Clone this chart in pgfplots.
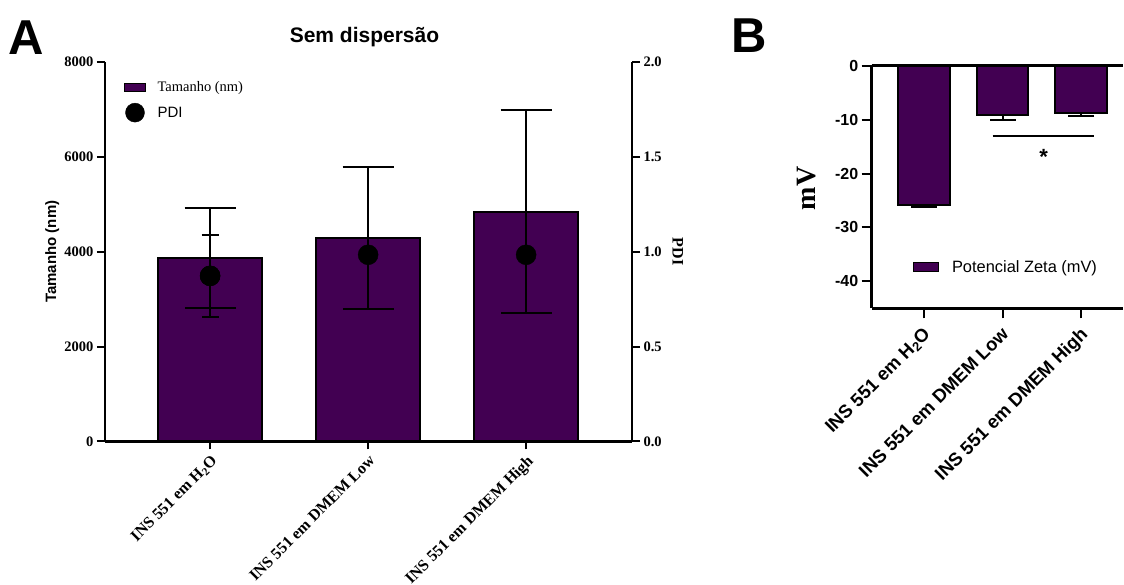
\documentclass[border=0pt]{standalone}
\usepackage{pgfplots}
\pgfplotsset{compat=1.18}
\usepackage{pgfplotstable}
\usepackage{fontspec}
\setmainfont{Liberation Serif}
\setsansfont{Liberation Sans}
\definecolor{barc}{RGB}{66,0,82}

\pgfplotstableread{
x size err
0 3877 1055
1 4290 1500
2 4845 2140
}\tabA

\pgfplotstableread{
x pdi
0 0.873
1 0.984
2 0.984
}\tabPDI

\pgfplotstableread{
x zeta err
0 -25.9 0.3
1 -9.13 0.93
2 -8.70 0.6
}\tabB

\begin{document}
\begin{tikzpicture}[x=1pt,y=1pt]
\useasboundingbox (0,0) rectangle (1124,585);

% ---------- Panel A : bars ----------
\begin{axis}[
  at={(105pt,143.5pt)}, anchor=south west,
  scale only axis, width=527pt, height=379.5pt,
  xmin=-0.665, xmax=2.67, ymin=0, ymax=8000,
  axis x line*=bottom, axis y line*=left,
  axis line style={line width=2.5pt, black},
  tick style={line width=2pt, black}, major tick length=8pt, tick align=outside,
  ytick={0,2000,4000,6000,8000},
  yticklabels={0,2000,4000,6000,8000},
  yticklabel style={font=\rmfamily\bfseries\fontsize{14.5}{16}\selectfont},
  xtick={0,1,2},
  xticklabels={INS 551 em H\textsubscript{2}O, INS 551 em DMEM Low, INS 551 em DMEM High},
  xticklabel style={font=\rmfamily\bfseries\fontsize{16}{18}\selectfont, yshift=-3pt, rotate=45, anchor=north east, inner sep=1pt},
  ylabel={Tamanho (nm)},
  ylabel style={font=\sffamily\bfseries\fontsize{15}{17}\selectfont, at={(axis description cs:-0.1,0.5)}, anchor=center},
  legend style={at={(axis description cs:0.03,0.96)}, anchor=north west, draw=none, fill=none, row sep=8pt},
  legend cell align=left,
  clip=false,
]
\addlegendimage{legend image code/.code={\path[draw=none,fill=none] (0pt,0pt) -- (31pt,0pt);\draw[fill=barc,draw=black,line width=1pt] (0pt,-4pt) rectangle (21pt,4pt);}}
\addlegendentry{\rmfamily\fontsize{14.5}{16}\selectfont Tamanho (nm)}
\addlegendimage{legend image code/.code={\path[draw=none,fill=none] (0pt,0pt) -- (31pt,0pt);\fill[black] (10.5pt,0pt) circle (9.5pt);}}
\addlegendentry{\sffamily\fontsize{15}{17}\selectfont PDI}
\addplot[ybar, bar width=0.66, fill=barc, draw=black, line width=2pt,
  error bars/.cd, y dir=both, y explicit,
  error bar style={line width=2pt, black},
  error mark options={rotate=90, line width=2pt, mark size=25.5pt, black}]
  table[x=x, y=size, y error=err]{\tabA};
\end{axis}

% ---------- Panel A : PDI ----------
\begin{axis}[
  at={(105pt,143.5pt)}, anchor=south west,
  scale only axis, width=527pt, height=379.5pt,
  xmin=-0.665, xmax=2.67, ymin=0, ymax=2,
  axis x line=none, axis y line*=right,
  axis line style={line width=2.5pt, black},
  tick style={line width=2pt, black}, major tick length=8pt, tick align=outside,
  ytick={0,0.5,1,1.5,2},
  yticklabels={0.0,0.5,1.0,1.5,2.0},
  yticklabel style={font=\rmfamily\bfseries\fontsize{14.5}{16}\selectfont},
  clip=false,
]
\addplot[only marks, mark=*, mark size=10pt, black,
  error bars/.cd, y dir=both, y explicit,
  error bar style={line width=2pt, black},
  error mark options={rotate=90, line width=2pt, mark size=8.5pt, black}]
  coordinates {(0,0.873) +- (0,0.216)};
\addplot[only marks, mark=*, mark size=10pt, black] table[x=x, y=pdi]{\tabPDI};
\node[rotate=-90, anchor=center, font=\rmfamily\bfseries\fontsize{16}{18}\selectfont] at (axis description cs:1.087,0.5) {PDI};
\end{axis}

% ---------- Panel B ----------
\begin{axis}[
  at={(871.7pt,276.7pt)}, anchor=south west,
  scale only axis, width=251pt, height=242.6pt,
  xmin=-0.665, xmax=2.53, ymin=-45, ymax=0,
  axis x line*=bottom, axis y line*=left,
  axis line style={line width=2.5pt, black},
  tick style={line width=2pt, black}, major tick length=10pt, tick align=outside,
  ytick={-40,-30,-20,-10,0},
  yticklabels={-40,-30,-20,-10,0},
  yticklabel style={font=\sffamily\bfseries\fontsize{16}{18}\selectfont},
  xtick={0,1,2},
  xticklabels={INS 551 em H\textsubscript{2}O, INS 551 em DMEM Low, INS 551 em DMEM High},
  xticklabel style={font=\sffamily\bfseries\fontsize{18.5}{20}\selectfont, xshift=-2pt, yshift=-6pt, rotate=45, anchor=north east, inner sep=1pt},
  ylabel={mV},
  ylabel style={font=\rmfamily\bfseries\fontsize{28}{30}\selectfont, at={(axis description cs:-0.259,0.494)}, anchor=center},
  legend style={at={(axis description cs:0.15,0.17)}, anchor=west, draw=none, fill=none},
  legend image code/.code={\path[draw=none,fill=none] (0pt,0pt) -- (37pt,0pt);\draw[fill=barc,draw=black,line width=1pt] (0pt,-4.5pt) rectangle (25pt,4.5pt);},
  clip=false,
]
\addplot[ybar, bar width=0.66, fill=barc, draw=black, line width=2pt,
  error bars/.cd, y dir=minus, y explicit,
  error bar style={line width=2pt, black},
  error mark options={rotate=90, line width=2pt, mark size=13pt, black}]
  table[x=x, y=zeta, y error=err]{\tabB};
\addlegendentry{\sffamily\fontsize{16.4}{18}\selectfont Potencial Zeta (mV)}
\draw[line width=2.5pt] (rel axis cs:0,1) -- (rel axis cs:1,1);
\draw[line width=2pt] (axis cs:0.873,-13) -- (axis cs:2.17,-13);
\node[font=\sffamily\bfseries\fontsize{22}{22}\selectfont] at (axis cs:1.525,-17) {*};
\end{axis}

% ---------- Texts ----------
\node[anchor=base west, inner sep=0pt, font=\sffamily\bfseries\fontsize{49}{50}\selectfont] at (8,530) {A};
\node[anchor=base west, inner sep=0pt, font=\sffamily\bfseries\fontsize{49}{50}\selectfont] at (731,532) {B};
\node[anchor=base, inner sep=0pt, font=\sffamily\bfseries\fontsize{21}{24}\selectfont] at (364.5,542) {Sem dispersão};
\end{tikzpicture}
\end{document}
